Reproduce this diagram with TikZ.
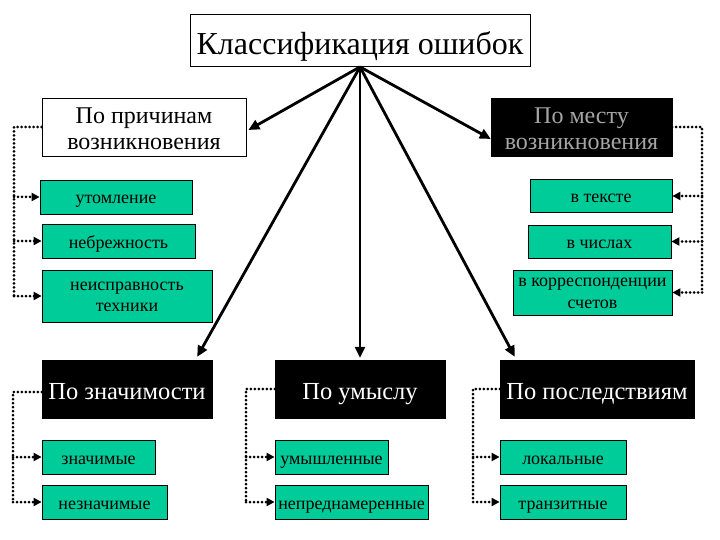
\documentclass[tikz,border=0pt]{standalone}
\usepackage{fontspec}
\setmainfont{Liberation Serif}
\usetikzlibrary{arrows.meta,calc}
\definecolor{tealg}{RGB}{0,204,153}
\definecolor{lgray}{RGB}{165,165,165}
\begin{document}
\begin{tikzpicture}[x=1pt,y=-1pt,
 wbox/.style={draw=black, fill=white, line width=0.8pt, inner sep=0pt},
 bbox/.style={fill=black, draw=black, inner sep=0pt, text=white, font=\fontsize{24.5}{27}\selectfont, text height=21.6pt, text depth=0pt},
 gbox/.style={draw=black, fill=tealg, line width=0.8pt, inner sep=0pt, font=\fontsize{18}{21.7}\selectfont, text height=14pt, text depth=0pt},
 gtwo/.style={gbox, align=center, text height=31.4pt, text depth=0pt},
 mainarr/.style={line width=2.8pt, -{Triangle[length=11pt,width=10pt]}},
 dotline/.style={line width=3pt, line cap=round, dash pattern=on 0pt off 4pt},
 dotarr/.style={dotline, -{Triangle[length=8pt,width=8pt]}}]
\useasboundingbox (0,0) rectangle (720,540);
% top
\node[wbox, minimum width=340, minimum height=52, font=\fontsize{32}{34}\selectfont, text height=28pt, text depth=0pt] (title) at (360,40.5) {Классификация ошибок};
\node[wbox, align=center, minimum width=204, minimum height=58, font=\fontsize{24}{26.7}\selectfont, text height=46pt, text depth=0pt] (pp) at (144,127) {По причинам\\возникновения};
\node[bbox, align=center, minimum width=181, minimum height=58, text=lgray, font=\fontsize{24}{26.7}\selectfont, text height=46pt, text depth=0pt] (pm) at (581.5,127) {По месту\\возникновения};
% left children
\node[gbox, minimum width=152, minimum height=34] (ut) at (116,197) {утомление};
\node[gbox, minimum width=153, minimum height=34] (nb) at (118.5,241) {небрежность};
\node[gtwo, minimum width=170, minimum height=52] (ni) at (127,296) {неисправность\\техники};
% right children
\node[gbox, minimum width=142, minimum height=33] (vt) at (601,196) {в тексте};
\node[gbox, minimum width=143, minimum height=33] (vc) at (599.5,241.5) {в числах};
\node[gtwo, minimum width=159, minimum height=45, text height=31.6pt] (vk) at (592.5,292.5) {в корреспонденции\\счетов};
% bottom parents
\node[bbox, minimum width=170, minimum height=58] (pz) at (127,389) {По значимости};
\node[bbox, minimum width=170, minimum height=58] (pu) at (360,389) {По умыслу};
\node[bbox, minimum width=194, minimum height=58] (pl) at (597,389) {По последствиям};
% bottom children
\node[gbox, minimum width=113, minimum height=34] (zn) at (98.5,457) {значимые};
\node[gbox, minimum width=125, minimum height=34] (nz) at (104.5,502) {незначимые};
\node[gbox, minimum width=113, minimum height=34] (um) at (331.5,457) {умышленные};
\node[gbox, minimum width=153, minimum height=34] (nn) at (351.5,502) {непреднамеренные};
\node[gbox, minimum width=126, minimum height=34] (lo) at (563,457) {локальные};
\node[gbox, minimum width=126, minimum height=34] (tr) at (563,502) {транзитные};
% main arrows
\draw[mainarr] (title.south) -- ($(pp.east)+(2,3)$);
\draw[mainarr] (title.south) -- ($(pm.west)+(0,12)$);
\draw[mainarr] (title.south) -- ($(pz.north east)+(-15,-3)$);
\draw[mainarr] (title.south) -- ($(pu.north)+(0,-2)$);
\draw[mainarr] (title.south) -- ($(pl.north west)+(15,-3)$);
% dotted connectors
\coordinate (lA) at (14,0);
\coordinate (rA) at (702,0);
\coordinate (lB) at (13,0);
\coordinate (lC) at (246,0);
\coordinate (lD) at (473,0);
\draw[dotline] (pp.west) -| (lA |- ni.west);
\foreach \c in {ut,nb,ni} \draw[dotarr] (lA |- \c.west) -- (\c.west);
\draw[dotline] (pm.east) -| (rA |- vk.east);
\foreach \c in {vt,vc,vk} \draw[dotarr] (rA |- \c.east) -- (\c.east);
\draw[dotline] ($(pz.west)+(0,3)$) -| (lB |- nz.west);
\foreach \c in {zn,nz} \draw[dotarr] (lB |- \c.west) -- (\c.west);
\draw[dotline] (pu.west) -| (lC |- nn.west);
\foreach \c in {um,nn} \draw[dotarr] (lC |- \c.west) -- (\c.west);
\draw[dotline] (pl.west) -| (lD |- tr.west);
\foreach \c in {lo,tr} \draw[dotarr] (lD |- \c.west) -- (\c.west);
\end{tikzpicture}
\end{document}
